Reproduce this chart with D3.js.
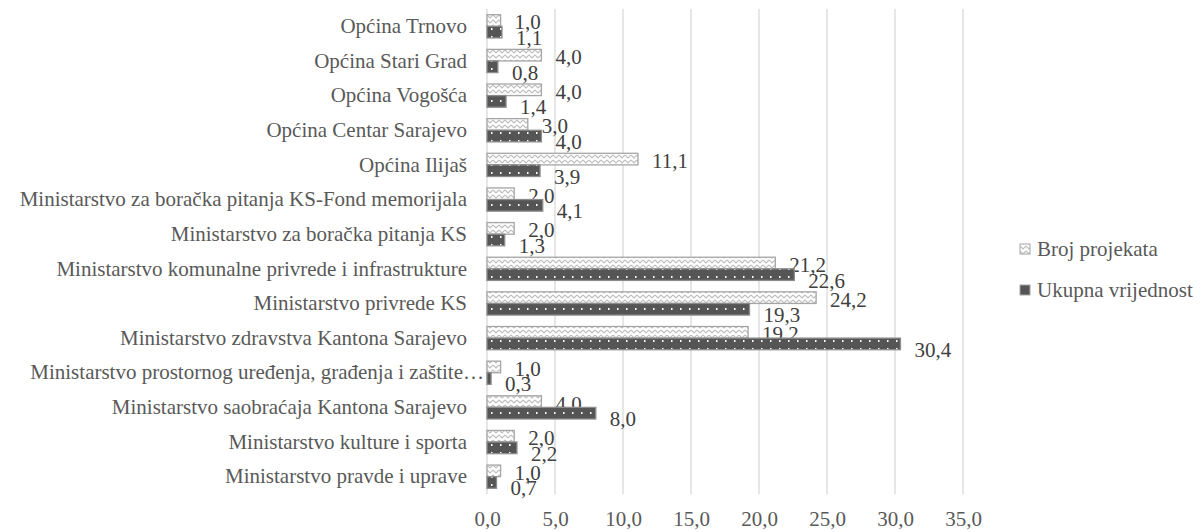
<!DOCTYPE html>
<html>
<head>
<meta charset="utf-8">
<script src="https://cdn.jsdelivr.net/npm/d3@7"></script>
<style>
  body { margin: 0; background: #fff; }
</style>
</head>
<body>
<div id="chart"></div>
<script>
// chart data, top to bottom
var categories = [
  "Općina Trnovo",
  "Općina Stari Grad",
  "Općina Vogošća",
  "Općina Centar Sarajevo",
  "Općina Ilijaš",
  "Ministarstvo za boračka pitanja KS-Fond memorijala",
  "Ministarstvo za boračka pitanja KS",
  "Ministarstvo komunalne privrede i infrastrukture",
  "Ministarstvo privrede KS",
  "Ministarstvo zdravstva Kantona Sarajevo",
  "Ministarstvo prostornog uređenja, građenja i zaštite…",
  "Ministarstvo saobraćaja Kantona Sarajevo",
  "Ministarstvo kulture i sporta",
  "Ministarstvo pravde i uprave"
];
var brojProjekata = [1.0, 4.0, 4.0, 3.0, 11.1, 2.0, 2.0, 21.2, 24.2, 19.2, 1.0, 4.0, 2.0, 1.0];
var ukupnaVrijednost = [1.1, 0.8, 1.4, 4.0, 3.9, 4.1, 1.3, 22.6, 19.3, 30.4, 0.3, 8.0, 2.2, 0.7];
var seriesNames = ["Broj projekata", "Ukupna vrijednost"];
var xTicks = [0, 5, 10, 15, 20, 25, 30, 35];

var svgWidth = 1204;
var svgHeight = 532;
var margin = { top: 9, right: 241, bottom: 38, left: 487 };
var width = svgWidth - margin.left - margin.right;
var height = svgHeight - margin.top - margin.bottom;

var FONT = "'Liberation Serif', 'Times New Roman', serif";

var fmt = function(v) { return d3.format(".1f")(v).replace(".", ","); };

var svg = d3.select("#chart")
  .append("svg")
  .attr("width", svgWidth)
  .attr("height", svgHeight);

// patterns
var defs = svg.append("defs");
var zig = defs.append("pattern")
  .attr("id", "zigzag")
  .attr("patternUnits", "userSpaceOnUse")
  .attr("width", 6)
  .attr("height", 5);
zig.append("rect").attr("width", 6).attr("height", 5).attr("fill", "#fff");
zig.append("path")
  .attr("d", "M0,1 L3,4 L6,1")
  .attr("fill", "none")
  .attr("stroke", "#bdbdbd")
  .attr("stroke-width", 1.1);

var dots = defs.append("pattern")
  .attr("id", "dots")
  .attr("patternUnits", "userSpaceOnUse")
  .attr("width", 9)
  .attr("height", 8);
dots.append("rect").attr("width", 9).attr("height", 8).attr("fill", "#555555");
dots.append("rect").attr("x", 4).attr("y", 3).attr("width", 1.5).attr("height", 2).attr("fill", "#fff");

var fills = ["url(#zigzag)", "url(#dots)"];
var legendFills = ["url(#zigzag)", "#555555"];
var labelShift = [2, 6];

var chartGroup = svg.append("g")
  .attr("transform", `translate(${margin.left}, ${margin.top})`);

var xScale = d3.scaleLinear().domain([0, 35]).range([0, 476]);

var yScale = d3.scaleBand()
  .domain(categories)
  .range([0, height])
  .paddingInner(0.33)
  .paddingOuter(0.165);

var subScale = d3.scaleBand()
  .domain(seriesNames)
  .range([0, yScale.bandwidth()]);

// gridlines
chartGroup.append("g")
  .selectAll("line")
  .data(xTicks)
  .enter()
  .append("line")
  .attr("x1", d => xScale(d))
  .attr("x2", d => xScale(d))
  .attr("y1", 0)
  .attr("y2", height)
  .attr("stroke", "#d9d9d9")
  .attr("stroke-width", 1.3);

// x axis labels
var xAxis = chartGroup.append("g")
  .attr("transform", `translate(0, ${height})`)
  .call(d3.axisBottom(xScale).tickValues(xTicks).tickSize(0).tickPadding(17).tickFormat(fmt));
xAxis.attr("font-family", FONT).attr("font-size", 21);
xAxis.select(".domain").remove();
xAxis.selectAll("text").attr("fill", "#595959");

// y axis labels
var yAxis = chartGroup.append("g")
  .call(d3.axisLeft(yScale).tickSize(0).tickPadding(20));
yAxis.attr("font-family", FONT).attr("font-size", 21);
yAxis.select(".domain").remove();
yAxis.selectAll("text").attr("fill", "#595959");
yAxis.selectAll("text")
  .filter(d => d.indexOf("…") >= 0)
  .attr("x", -3);

var series = [brojProjekata, ukupnaVrijednost];

series.forEach(function(values, s) {
  var g = chartGroup.append("g");
  g.selectAll("rect")
    .data(values)
    .enter()
    .append("rect")
    .attr("x", 0)
    .attr("y", (d, i) => yScale(categories[i]) + subScale(seriesNames[s]))
    .attr("width", d => xScale(d))
    .attr("height", subScale.bandwidth())
    .attr("fill", fills[s])
    .attr("stroke", s === 0 ? "#a6a6a6" : "#8c8c8c")
    .attr("stroke-width", 1.3);

  g.selectAll("text")
    .data(values)
    .enter()
    .append("text")
    .attr("x", d => xScale(d) + 14)
    .attr("y", (d, i) => yScale(categories[i]) + subScale(seriesNames[s]) + subScale.bandwidth() / 2 + labelShift[s])
    .attr("dy", "0.33em")
    .attr("font-family", FONT)
    .attr("font-size", 21)
    .attr("fill", "#404040")
    .text(d => fmt(d));
});

// legend
var legend = svg.append("g").attr("transform", "translate(1020, 0)");
seriesNames.forEach(function(name, i) {
  var ly = 249 + i * 41;
  legend.append("rect")
    .attr("x", 0)
    .attr("y", ly - 5)
    .attr("width", 10)
    .attr("height", 10)
    .attr("fill", legendFills[i])
    .attr("stroke", "#a6a6a6")
    .attr("stroke-width", 1);
  legend.append("text")
    .attr("x", 17)
    .attr("y", ly)
    .attr("dy", "0.33em")
    .attr("font-family", FONT)
    .attr("font-size", 21)
    .attr("fill", "#595959")
    .text(name);
});
</script>
</body>
</html>
